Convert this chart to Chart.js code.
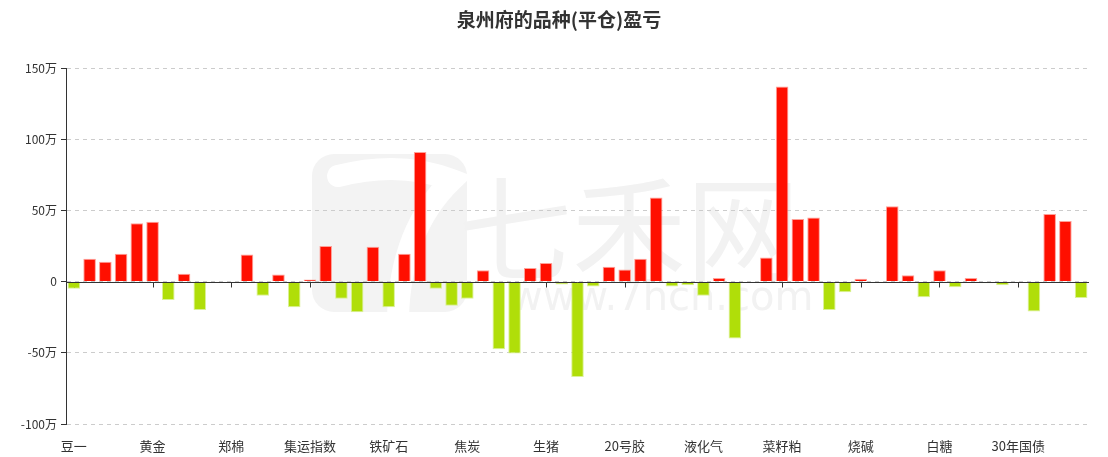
<!DOCTYPE html>
<html>
<head>
<meta charset="utf-8">
<script src="https://cdn.jsdelivr.net/npm/chart.js@4.4.1/dist/chart.umd.min.js"></script>
<style>
  html, body { margin: 0; padding: 0; background: #fff; }
</style>
</head>
<body>
<canvas id="graficaPnl" width="1108" height="457"></canvas>
<script>
// 品种 (only every 5th is shown on the axis)
const categorias = [
  '豆一', '豆二', '豆粕', '豆油', '棕榈油', '黄金', '白银', '沪铜', '沪铝', '沪锌',
  '郑棉', '棉纱', '苹果', '红枣', '花生', '集运指数', '沪镍', '沪锡', '不锈钢', '螺纹钢',
  '铁矿石', '热卷', '硅铁', '锰硅', '焦煤', '焦炭', '玻璃', '纯碱', '尿素', '甲醇',
  '生猪', '鸡蛋', '玉米', '淀粉', '天然橡胶', '20号胶', '丁二烯橡胶', '沥青', '燃料油', '原油',
  '液化气', 'PTA', '短纤', '乙二醇', '菜籽油', '菜籽粕', '菜籽', 'PVC', '聚丙烯', '塑料',
  '烧碱', '苯乙烯', '碳酸锂', '工业硅', '多晶硅', '白糖', '纸浆', '原木', '沪深300', '中证500',
  '30年国债', '10年国债', '5年国债', '2年国债', '上证50'
];

// 平仓盈亏, 单位: 万
const pnl = [
  -5, 16, 14, 19.5, 41, 42, -13, 5.5, -20, -1,
  -1, 19, -10, 5, -18, 1.5, 25, -12, -21.5, 24.5,
  -18, 19.5, 91, -5, -17, -12, 8, -47.5, -50.5, 9.5,
  13, -2, -67, -3.5, 10.5, 8.5, 16, 59, -3.5, -2.5,
  -10, 2.5, -40, -1, 17, 137, 44, 45, -20, -7.5,
  2, -0.7, 53, 4.5, -11, 8, -4, 2.5, -1.2, -2.5,
  0, -21, 47.5, 42.5, -11.5
];

const ejeY = { min: -100, max: 150, paso: 50 };

const ROJO = '#ff0f00', VERDE = '#b0de09';
const FUENTE = '"Noto Sans CJK SC", "Noto Sans", sans-serif';

// marca de agua + título
const fondo = {
  id: 'fondo',
  beforeDraw(chart) {
    const ctx = chart.ctx;
    ctx.save();
    ctx.fillStyle = '#fff';
    ctx.fillRect(0, 0, chart.width, chart.height);

    // logo
    ctx.fillStyle = '#f3f3f3';
    ctx.beginPath();
    ctx.roundRect(312, 154, 155, 158, 22);
    ctx.fill();
    ctx.strokeStyle = '#fff';
    ctx.lineWidth = 22;
    ctx.lineCap = 'round';
    ctx.beginPath();
    ctx.moveTo(338, 176);
    ctx.quadraticCurveTo(400, 160, 452, 180);
    ctx.quadraticCurveTo(400, 230, 398, 318);
    ctx.stroke();

    ctx.fillStyle = '#f2f2f2';
    ctx.textBaseline = 'alphabetic';
    ctx.textAlign = 'left';
    ctx.font = '114px ' + FUENTE;
    ctx.fillText('七禾网', 458, 272);
    ctx.font = '40px "DejaVu Sans", sans-serif';
    ctx.fillText('www.7hcn.com', 510, 310);

    // título
    ctx.fillStyle = '#333';
    ctx.textAlign = 'center';
    ctx.textBaseline = 'middle';
    ctx.font = 'bold 19px ' + FUENTE;
    ctx.fillText('泉州府的品种(平仓)盈亏', 559, 20);
    ctx.restore();
  },
  beforeDatasetsDraw(chart) {
    const { ctx, scales: { x, y } } = chart;
    const y0 = Math.round(y.getPixelForValue(0)) + 0.5;
    ctx.save();
    ctx.strokeStyle = '#333';
    ctx.lineWidth = 1;
    ctx.beginPath();
    categorias.forEach((c, i) => {
      if (i % 5 !== 0) return;
      const px = Math.round(x.getPixelForValue(i)) + 0.5;
      ctx.moveTo(px, y0);
      ctx.lineTo(px, y0 + 5);
    });
    ctx.stroke();
    ctx.restore();
  },
  afterDatasetsDraw(chart) {
    const { ctx, chartArea, scales: { y } } = chart;
    const y0 = Math.round(y.getPixelForValue(0)) + 0.5;
    ctx.save();
    ctx.strokeStyle = '#333';
    ctx.lineWidth = 1;
    ctx.beginPath();
    ctx.moveTo(chartArea.left, y0);
    ctx.lineTo(chartArea.right, y0);
    ctx.stroke();
    ctx.restore();
  }
};

const ctx = document.getElementById('graficaPnl').getContext('2d');
new Chart(ctx, {
  type: 'bar',
  data: {
    labels: categorias,
    datasets: [{
      label: '盈亏',
      data: pnl,
      backgroundColor: pnl.map(v => v >= 0 ? ROJO : VERDE),
      borderColor: pnl.map(v => v >= 0 ? 'rgba(255,150,140,0.9)' : 'rgba(215,240,140,0.9)'),
      borderWidth: 1,
      categoryPercentage: 1,
      barPercentage: 0.8
    }]
  },
  options: {
    responsive: false,
    animation: false,
    layout: { padding: { top: 68, right: 19, left: 0, bottom: 0 } },
    plugins: {
      legend: { display: false },
      title: { display: false },
      tooltip: { enabled: false }
    },
    scales: {
      x: {
        grid: { display: false },
        border: { display: false },
        ticks: {
          autoSkip: false,
          maxRotation: 0,
          padding: 6,
          color: '#333',
          font: { size: 13, family: FUENTE },
          callback: (v, i) => i % 5 === 0 ? categorias[i] : ''
        },
        afterFit: s => { s.height = 33; }
      },
      y: {
        min: ejeY.min,
        max: ejeY.max,
        grid: {
          color: '#ccc',
          tickColor: '#333',
          tickLength: 5,
          tickBorderDash: []
        },
        border: { display: true, color: '#333', width: 1, dash: [4, 4] },
        ticks: {
          stepSize: ejeY.paso,
          padding: 4,
          color: '#333',
          font: { size: 12, family: FUENTE },
          callback: v => v === 0 ? '0' : v + '万'
        },
        afterFit: s => { s.width = 66; }
      }
    }
  },
  plugins: [fondo]
});
</script>
</body>
</html>
